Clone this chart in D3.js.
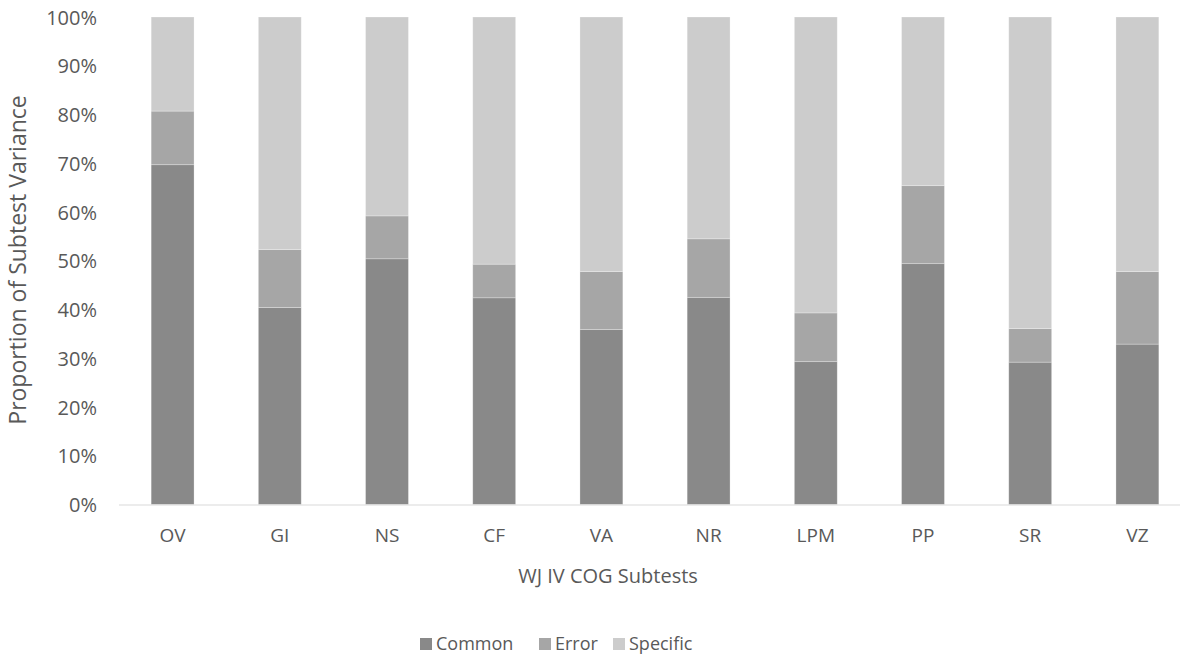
<!DOCTYPE html>
<html><head><meta charset="utf-8">
<script src="https://cdn.jsdelivr.net/npm/d3@7"></script>
<style>
body{margin:0;background:#fff;}
text{font-family:"Open Sans","Liberation Sans",sans-serif;fill:#595959;}
</style></head>
<body><svg id="c" width="1180" height="657"></svg>
<script>
const categories = ["OV","GI","NS","CF","VA","NR","LPM","PP","SR","VZ"];
const common   = [69.7,40.4,50.4,42.4,35.9,42.5,29.3,49.4,29.2,32.9];
const error    = [11.0,11.9, 8.8, 6.9,11.9,12.0,10.0,16.0, 6.9,14.9];
const specific = categories.map((c,i)=>+(100-common[i]-error[i]).toFixed(1));
const seriesNames = ["Common","Error","Specific"];
const colors = ["#898989","#a6a6a6","#cccccc"];
const yTicks = [0,10,20,30,40,50,60,70,80,90,100];

const svg = d3.select("#c");
const x = d3.scaleBand().domain(categories).range([119,1191]).paddingInner(0.6).paddingOuter(0.3);
const y = d3.scaleLinear().domain([0,100]).range([504.5,17]);

const rows = categories.map((c,i)=>({cat:c,Common:common[i],Error:error[i],Specific:specific[i]}));
const stack = d3.stack().keys(seriesNames)(rows);

svg.append("g").selectAll("g").data(stack).join("g")
  .attr("fill",(d,i)=>colors[i])
  .selectAll("rect").data(d=>d).join("rect")
  .attr("x",d=>x(d.data.cat))
  .attr("width",x.bandwidth())
  .attr("y",d=>y(d[1]))
  .attr("height",d=>y(d[0])-y(d[1]))
  .attr("stroke","#ffffff").attr("stroke-opacity",0.35).attr("stroke-width",0.75);

// x axis line
svg.append("line").attr("x1",119).attr("x2",1191).attr("y1",y(0)+0.5).attr("y2",y(0)+0.5)
  .attr("stroke","#d9d9d9").attr("stroke-width",1);

// y tick labels
const yAxis = d3.axisLeft(y).tickValues(yTicks).tickFormat(d=>d+"%").tickSize(0).tickPadding(0);
const gy = svg.append("g").attr("transform","translate(97,0)").call(yAxis);
gy.select(".domain").remove();
gy.selectAll("text").style("font-size","20px").attr("fill","#595959").attr("dy","0.35em");

// x tick labels
const xAxis = d3.axisBottom(x).tickSize(0).tickPadding(0);
const gx = svg.append("g").attr("transform","translate(0,535)").call(xAxis);
gx.select(".domain").remove();
gx.selectAll("text").style("font-size","19px").attr("fill","#595959").attr("dy","0.35em");

// axis titles
svg.append("text").attr("transform","translate(26,260) rotate(-90)")
  .attr("text-anchor","middle").style("font-size","23px").text("Proportion of Subtest Variance");
svg.append("text").attr("x",608).attr("y",583).attr("text-anchor","middle")
  .style("font-size","20px").text("WJ IV COG Subtests");

// legend
const legX = [420,539,613];
const leg = svg.append("g");
seriesNames.forEach((n,i)=>{
  leg.append("rect").attr("x",legX[i]).attr("y",638).attr("width",12).attr("height",12).attr("fill",colors[i]);
  leg.append("text").attr("x",legX[i]+16).attr("y",644).attr("dy","0.35em").style("font-size","18px").text(n);
});
</script></body></html>
